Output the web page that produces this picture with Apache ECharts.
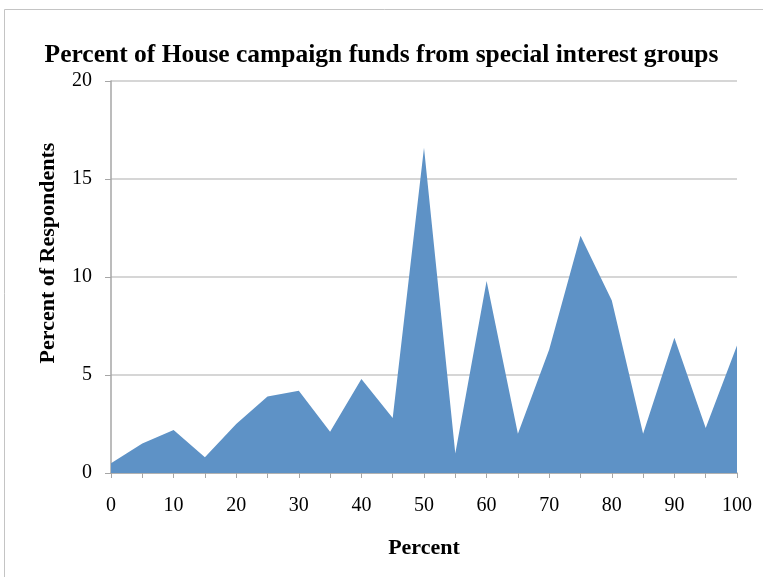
<!DOCTYPE html>
<html>
<head>
<meta charset="utf-8">
<script src="https://cdn.jsdelivr.net/npm/echarts@6/dist/echarts.min.js"></script>
<style>
  html, body { margin: 0; padding: 0; background: #fff; }
  #chart { width: 763px; height: 577px; }
</style>
</head>
<body>
<div id="chart"></div>
<script>
// Share of campaign funds from special interest groups (x, percent)
var categories = ['0','5','10','15','20','25','30','35','40','45','50',
                  '55','60','65','70','75','80','85','90','95','100'];
// Percent of respondents at each value
var respondents = [0.5, 1.5, 2.2, 0.8, 2.5, 3.9, 4.2, 2.1, 4.8, 2.8, 16.6,
                   1.0, 9.8, 2.0, 6.3, 12.1, 8.8, 2.0, 6.9, 2.3, 6.5];
var yTicks = { min: 0, max: 20, interval: 5 };

var serif = '"Liberation Serif", "DejaVu Serif", serif';
var chart = echarts.init(document.getElementById('chart'), null, { renderer: 'canvas' });

chart.setOption({
  animation: false,
  backgroundColor: '#ffffff',
  graphic: [{
    type: 'rect',
    shape: { x: 4.5, y: 9.5, width: 800, height: 600 },
    style: { fill: 'none', stroke: '#c4c4c4', lineWidth: 1 },
    silent: true
  }],
  title: {
    text: 'Percent of House campaign funds from special interest groups',
    left: 'center',
    top: 37,
    textStyle: { fontFamily: serif, fontWeight: 'bold', fontSize: 25.5, color: '#000' }
  },
  grid: { left: 111, right: 26, top: 81, bottom: 104 },
  xAxis: {
    type: 'category',
    data: categories,
    boundaryGap: false,
    name: 'Percent',
    nameLocation: 'middle',
    nameGap: 64,
    nameTextStyle: { fontFamily: serif, fontWeight: 'bold', fontSize: 22, color: '#000' },
    axisLine: { lineStyle: { color: '#a6a6a6', width: 1.5 } },
    axisTick: { show: true, interval: 0, length: 5, lineStyle: { color: '#a6a6a6' } },
    axisLabel: { interval: 1, margin: 23, fontFamily: serif, fontSize: 20, color: '#000' },
    splitLine: { show: false }
  },
  yAxis: {
    type: 'value',
    min: yTicks.min,
    max: yTicks.max,
    interval: yTicks.interval,
    name: 'Percent of Respondents',
    nameLocation: 'middle',
    nameGap: 52,
    nameTextStyle: {
      fontFamily: serif, fontWeight: 'bold', fontSize: 22, color: '#000',
      padding: [0, 0, 0, 48]
    },
    axisLine: { show: true, lineStyle: { color: '#a6a6a6', width: 1.5 } },
    axisTick: { show: true, length: 6, lineStyle: { color: '#a6a6a6' } },
    axisLabel: { margin: 19, fontFamily: serif, fontSize: 20, color: '#000' },
    splitLine: { lineStyle: { color: '#c8c8c8', width: 1.5 } }
  },
  series: [{
    type: 'line',
    data: respondents,
    symbol: 'none',
    lineStyle: { width: 0 },
    areaStyle: { color: '#5e92c6', opacity: 1 },
    z: 3
  }]
});
</script>
</body>
</html>
